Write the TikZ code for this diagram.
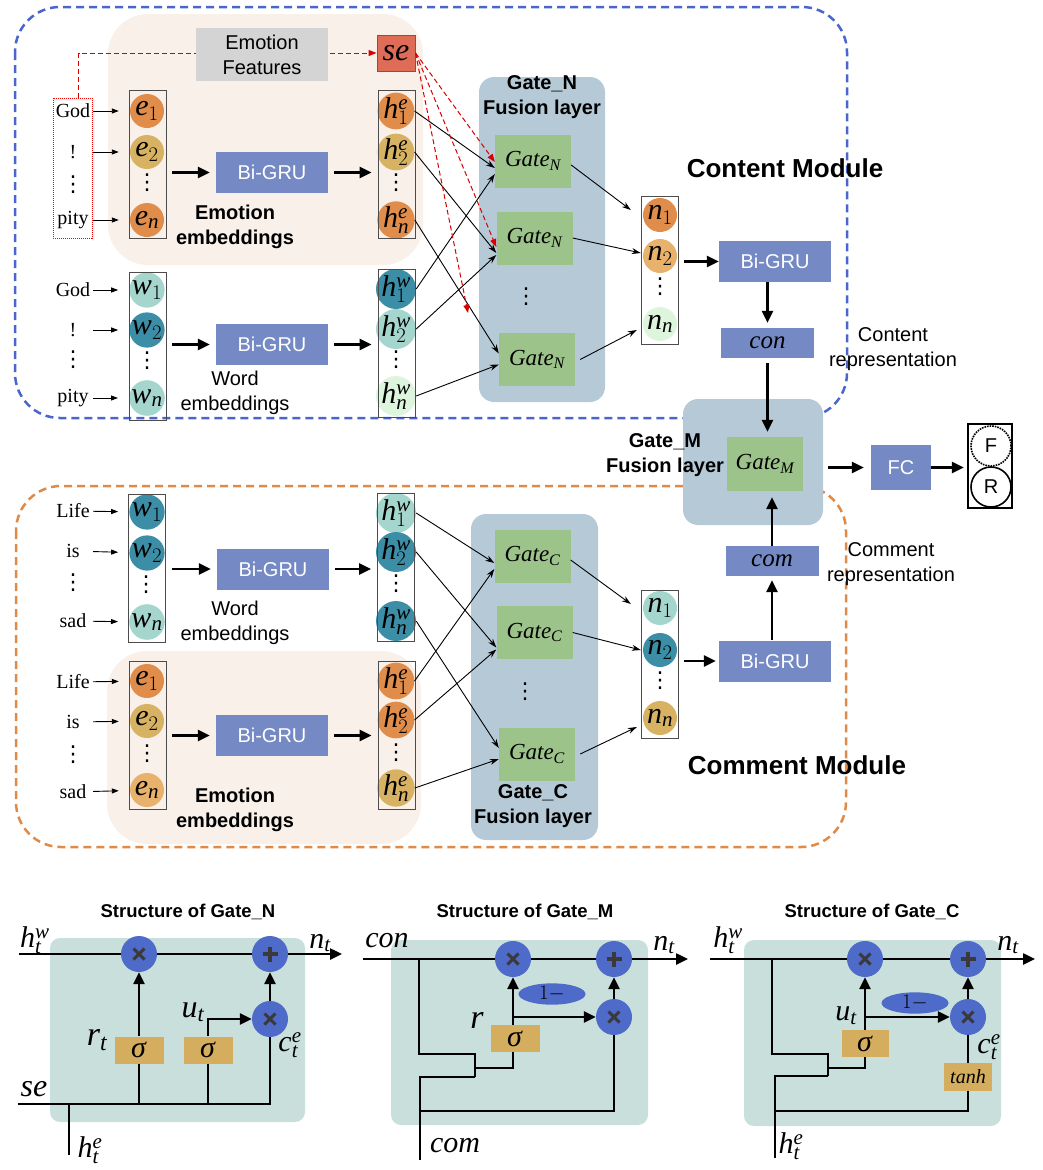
\documentclass[tikz,border=0pt]{standalone}
\usepackage{fontspec}
\setmainfont{Liberation Serif}[NFSSFamily=libserif]
\setsansfont{Liberation Sans}
\newfontfamily\dejavu{DejaVu Sans}
\SetSymbolFont{letters}{normal}{TU}{libserif}{m}{it}
\usetikzlibrary{arrows.meta}
\usetikzlibrary{positioning}
\usetikzlibrary{shapes.geometric}
\definecolor{peach}{HTML}{F9F0E9}
\definecolor{featgray}{HTML}{D4D4D4}
\definecolor{sered}{HTML}{DE6C57}
\definecolor{seborder}{HTML}{C0392B}
\definecolor{emo}{HTML}{E08C4A}
\definecolor{gold}{HTML}{D7B262}
\definecolor{lorange}{HTML}{E8B26C}
\definecolor{dteal}{HTML}{3C8EA6}
\definecolor{lteal}{HTML}{A5D6CE}
\definecolor{pale}{HTML}{DDF5DD}
\definecolor{grublue}{HTML}{7589C4}
\definecolor{fusion}{HTML}{B5CAD6}
\definecolor{gategreen}{HTML}{9CC48A}
\definecolor{dashblue}{HTML}{4A66CC}
\definecolor{dashorange}{HTML}{E08A48}
\definecolor{structbg}{HTML}{C9DFDB}
\definecolor{opblue}{HTML}{4F6BC9}
\definecolor{opmark}{HTML}{3A3A3A}
\definecolor{sigmabox}{HTML}{D4AE5E}
\newcommand{\colvdots}{{\dejavu ⋮}}
\newcommand{\sig}{\textit{σ}}
\tikzset{module/.style = {line width=2.5pt, dash pattern=on 8pt off 5pt, rounded corners=45pt}}
\tikzset{tok/.style = {circle, inner sep=0, minimum size=34pt, font=\fontsize{30}{30}\selectfont}}
\tikzset{colbox/.style = {draw=black!70, line width=0.8pt, inner sep=0, minimum width=37pt, minimum height=148pt}}
\tikzset{word/.style = {inner sep=0, minimum width=40pt, font=\fontsize{20}{22}\selectfont}}
\tikzset{dots/.style = {inner sep=0, font=\fontsize{22}{22}\selectfont}}
\tikzset{gru/.style = {fill=grublue, text=white, inner sep=0, minimum width=112pt, minimum height=41pt,
                       font=\sffamily\fontsize{20}{22}\selectfont}}
\tikzset{gatebox/.style = {fill=gategreen, inner sep=0, minimum width=76pt, minimum height=53pt,
                           font=\fontsize{23}{23}\selectfont}}
\tikzset{fusionbox/.style = {fill=fusion, rounded corners=15pt, inner sep=0}}
\tikzset{repbox/.style = {fill=grublue, inner sep=0, minimum width=93pt, minimum height=30pt,
                          font=\fontsize{25}{25}\selectfont}}
\tikzset{txt/.style = {align=center, inner sep=0, font=\sffamily\fontsize{20}{25}\selectfont}}
\tikzset{btxt/.style = {align=center, inner sep=0, font=\sffamily\bfseries\fontsize{20}{25}\selectfont}}
\tikzset{tarr/.style = {-{Triangle[length=7pt,width=5pt]}, line width=0.9pt, shorten >=11pt}}
\tikzset{bigarr/.style = {-{Triangle[length=12pt,width=11pt]}, line width=2.5pt, shorten <=6pt, shorten >=6pt}}
\tikzset{garr/.style = {-{Stealth[length=9pt,width=6pt]}, line width=0.9pt}}
\tikzset{redarr/.style = {-{Triangle[length=8pt,width=6pt]}, red!85!black, dash pattern=on 5pt off 3pt, line width=1pt}}
\tikzset{wire/.style = {line width=2.5pt}}
\tikzset{wirearr/.style = {line width=2.5pt, -{Triangle[length=12pt,width=11pt]}}}
\tikzset{op/.style = {circle, fill=opblue, minimum size=36pt, inner sep=0}}
\tikzset{opx/.style = {op, path picture={
  \draw[opmark, line width=3pt] ([shift={(-5.5pt,-5.5pt)}]path picture bounding box.center)
        -- ([shift={(5.5pt,5.5pt)}]path picture bounding box.center);
  \draw[opmark, line width=3pt] ([shift={(-5.5pt,5.5pt)}]path picture bounding box.center)
        -- ([shift={(5.5pt,-5.5pt)}]path picture bounding box.center);}}}
\tikzset{opplus/.style = {op, path picture={
  \draw[opmark, line width=3.2pt] ([xshift=-7.5pt]path picture bounding box.center)
        -- ([xshift=7.5pt]path picture bounding box.center);
  \draw[opmark, line width=3.2pt] ([yshift=-7.5pt]path picture bounding box.center)
        -- ([yshift=7.5pt]path picture bounding box.center);}}}
\tikzset{sigbox/.style = {fill=sigmabox, inner sep=0, minimum width=49pt, minimum height=27pt,
                          font=\fontsize{30}{30}\selectfont}}
\tikzset{oneminus/.style = {ellipse, fill=opblue, inner sep=0, minimum width=67pt, minimum height=17pt,
                            font=\fontsize{22}{22}\selectfont}}
\tikzset{mlab/.style = {inner sep=0, font=\fontsize{30}{30}\selectfont}}
\tikzset{stitle/.style = {inner sep=0, font=\sffamily\bfseries\fontsize{18.5}{22}\selectfont}}

\begin{document}
\begin{tikzpicture}[x=1pt, y=-1pt]
  \useasboundingbox (0,0) rectangle (1042,1170);
  % module frames
  \draw[module, draw=dashblue] (15,7) rectangle (847,418);
  \draw[module, draw=dashorange] (16,486) rectangle (846,847);
  \fill[peach, rounded corners=40pt] (108,14) rectangle (423,265);
  \fill[peach, rounded corners=40pt] (107,651) rectangle (421,844);

  % content module, emotion branch
  \node[fill=sered, draw=seborder, line width=1pt, inner sep=0, minimum width=38pt, minimum height=36pt,
        font=\fontsize{32}{32}\selectfont] (se) at (396,53) {$se$};
  \node[draw=red, densely dotted, line width=1pt, minimum width=39pt, minimum height=140pt] (tgodbox) at (72.5,168) {};
  \draw[redarr] ([xshift=6pt]tgodbox.north) |- (se.west);
  \node[fill=featgray, minimum width=132pt, minimum height=53pt, txt] (feat) at (262,54.5) {Emotion\\Features};
  \foreach \i/\y/\t in {1/111/God, 2/152/!, n/220/pity}
    \node[word] (tg\i) at (73,\y) {\t};
  \node[dots] (tgd) at (73,185) {\colvdots};
  \foreach \i/\y/\c in {1/111/emo, 2/152/gold, n/220/emo}
    \node[tok, fill=\c] (te\i) at (147,\y) {$e_\i$};
  \node[dots] (ted) at (147,183) {\colvdots};
  \node[colbox] (tecol) at (147.5,164.5) {};
  \foreach \i in {1,2,n}
    \draw[tarr] (tg\i) -- (te\i);
  \node[gru] (teg) at (272,172.5) {Bi-GRU};
  \draw[bigarr] (tecol.east |- teg) -- (teg.west);
  \foreach \i/\y/\c in {1/111/emo, 2/152/gold, n/220/emo}
    \node[tok, fill=\c] (the\i) at (396,\y) {$h^e_\i$};
  \node[dots] (thed) at (396,183) {\colvdots};
  \node[colbox] (thecol) at (396.5,164.5) {};
  \draw[bigarr] (teg.east) -- (thecol.west |- teg);
  \node[btxt] (temb) at (235,227) {Emotion\\embeddings};

  % content module, word branch
  \foreach \i/\y/\t in {1/290/God, 2/330/!, n/398/pity}
    \node[word] (twg\i) at (73,\y) {\t};
  \node[dots] (twgd) at (73,360) {\colvdots};
  \foreach \i/\y/\c in {1/290/lteal, 2/330/dteal, n/398/lteal}
    \node[tok, fill=\c] (tw\i) at (147,\y) {$w_\i$};
  \node[dots] (twd) at (147,361) {\colvdots};
  \node[colbox] (twcol) at (147.5,346) {};
  \foreach \i in {1,2,n}
    \draw[tarr] (twg\i) -- (tw\i);
  \node[gru] (twgru) at (272,344.5) {Bi-GRU};
  \draw[bigarr] (twcol.east |- twgru) -- (twgru.west);
  \foreach \i/\y/\c in {1/289/dteal, 2/329/lteal, n/396/pale}
    \node[tok, fill=\c] (thw\i) at (396,\y) {$h^w_\i$};
  \node[dots] (thwd) at (396,360) {\colvdots};
  \node[colbox] (thwcol) at (396.5,343) {};
  \draw[bigarr] (twgru.east) -- (thwcol.west |- twgru);
  \node[txt] (twemb) at (235,393) {Word\\embeddings};

  % Gate_N fusion layer
  \node[fusionbox, minimum width=126pt, minimum height=325pt] (fusN) at (542,239.5) {};
  \node[btxt] (fusNt) at (542,97.5) {Gate\_N\\Fusion layer};
  \node[gatebox] (gn1) at (533,161) {$Gate_N$};
  \node[gatebox] (gn2) at (534.5,238) {$Gate_N$};
  \node[gatebox] (gn3) at (537,359.5) {$Gate_N$};
  \node[dots] (gnd) at (526,297) {\colvdots};
  \draw[garr] (the1.east) -- ([yshift=-7pt]gn1.west);
  \draw[garr] (the2.east) -- ([yshift=-15pt]gn2.west);
  \draw[garr] (then.east) -- ([yshift=6pt]gn3.west);
  \draw[garr] (thw1.east) -- ([yshift=-13pt]gn1.west);
  \draw[garr] (thw2.east) -- ([yshift=-17pt]gn2.west);
  \draw[garr] (thwn.east) -- ([yshift=-5pt]gn3.west);
  \coordinate (sedots) at (468,313);
  \draw[redarr] (se.east) -- ([yshift=-1pt]gn1.west);
  \draw[redarr] (se.east) -- ([yshift=-9pt]gn2.west);
  \draw[redarr] (se.east) -- (sedots);

  % content representation
  \foreach \i/\y/\c in {1/215/emo, 2/256/lorange, n/324/pale}
    \node[tok, fill=\c] (tn\i) at (660,\y) {$n_\i$};
  \node[dots] (tnd) at (660,287) {\colvdots};
  \node[colbox] (tncol) at (660,270) {};
  \draw[garr] ([yshift=-4pt]gn1.east) -- ([xshift=-12pt,yshift=5pt]tn1.west);
  \draw[garr] (gn2.east) -- ([xshift=-2pt,yshift=3pt]tn2.west);
  \draw[garr] ([xshift=5pt]gn3.east) -- ([xshift=-6pt,yshift=-6pt]tnn.west);
  \node[gru] (tngru) at (775,261.5) {Bi-GRU};
  \draw[bigarr, shorten <=5pt, shorten >=0pt] (tncol.east |- tngru) -- (tngru.west);
  \node[repbox] (con) at (767.5,343) {$con$};
  \draw[bigarr, shorten <=0pt, shorten >=5pt] (con.north |- tngru.south) -- (con.north);
  \node[txt] (conrep) at (893,349.5) {Content\\representation};
  \node[btxt, font=\sffamily\bfseries\fontsize{26}{30}\selectfont] (contmod) at (785,168) {Content Module};

  % Gate_M fusion layer and output
  \node[fusionbox, minimum width=140pt, minimum height=126pt] (fusM) at (753,462) {};
  \node[gatebox, minimum height=54pt] (gateM) at (765,464) {$Gate_M$};
  \node[btxt] (fusMt) at (665,455) {Gate\_M\\Fusion layer};
  \draw[bigarr, shorten <=5pt, shorten >=5pt] (con.south) -- (gateM.north -| con.south);
  \node[gru, minimum width=60pt, minimum height=45pt] (fc) at (901,467.5) {FC};
  \draw[bigarr, shorten <=5pt, shorten >=7pt] (fusM.east |- fc) -- (fc.west);
  \node[draw, line width=2.2pt, minimum width=44pt, minimum height=84pt, inner sep=0] (out) at (990,466) {};
  \node[circle, draw, densely dotted, line width=1.6pt, minimum size=40pt, inner sep=0,
        font=\sffamily\fontsize{20}{20}\selectfont] (outF) at (991,446) {F};
  \node[circle, draw, line width=1.6pt, minimum size=40pt, inner sep=0,
        font=\sffamily\fontsize{20}{20}\selectfont] (outR) at (991,487) {R};
  \draw[bigarr, shorten <=0pt, shorten >=3pt] (fc.east) -- (out.west |- fc);

  % comment module, word branch
  \foreach \i/\y/\t in {1/511/Life, 2/551/is, n/621/sad}
    \node[word] (bwg\i) at (73,\y) {\t};
  \node[dots] (bwgd) at (73,583) {\colvdots};
  \foreach \i/\y/\c in {1/512/dteal, 2/553/dteal, n/622/lteal}
    \node[tok, fill=\c] (bw\i) at (147,\y) {$w_\i$};
  \node[dots] (bwd) at (146,585) {\colvdots};
  \node[colbox] (bwcol) at (147,568.5) {};
  \foreach \i in {1,2,n}
    \draw[tarr] (bwg\i) -- (bw\i);
  \node[gru] (bwgru) at (273,569) {Bi-GRU};
  \draw[bigarr] (bwcol.east |- bwgru) -- (bwgru.west);
  \foreach \i/\y/\c in {1/513/lteal, 2/552/dteal, n/621/dteal}
    \node[tok, fill=\c] (bhw\i) at (396,\y) {$h^w_\i$};
  \node[dots] (bhwd) at (396,584) {\colvdots};
  \node[colbox] (bhwcol) at (396,567) {};
  \draw[bigarr] (bwgru.east) -- (bhwcol.west |- bwgru);
  \node[txt] (bwemb) at (235,623) {Word\\embeddings};

  % comment module, emotion branch
  \foreach \i/\y/\t in {1/682/Life, 2/722/is, n/792/sad}
    \node[word] (beg\i) at (73,\y) {\t};
  \node[dots] (begd) at (73,755) {\colvdots};
  \foreach \i/\y/\c in {1/681/emo, 2/721/gold, n/790/lorange}
    \node[tok, fill=\c] (be\i) at (147,\y) {$e_\i$};
  \node[dots] (bed) at (147,754) {\colvdots};
  \node[colbox] (becol) at (147.5,735) {};
  \foreach \i in {1,2,n}
    \draw[tarr] (beg\i) -- (be\i);
  \node[gru] (begru) at (272,735.5) {Bi-GRU};
  \draw[bigarr] (becol.east |- begru) -- (begru.west);
  \foreach \i/\y/\c in {1/681/emo, 2/720/emo, n/788/gold}
    \node[tok, fill=\c] (bhe\i) at (396,\y) {$h^e_\i$};
  \node[dots] (bhed) at (396,753) {\colvdots};
  \node[colbox] (bhecol) at (396.5,735) {};
  \draw[bigarr] (begru.east) -- (bhecol.west |- begru);
  \node[btxt] (bemb) at (235,810) {Emotion\\embeddings};

  % Gate_C fusion layer
  \node[fusionbox, minimum width=127pt, minimum height=326pt] (fusC) at (534.5,677) {};
  \node[btxt] (fusCt) at (533,806.5) {Gate\_C\\Fusion layer};
  \node[gatebox] (gc1) at (532.5,556) {$Gate_C$};
  \node[gatebox] (gc2) at (534.5,632.5) {$Gate_C$};
  \node[gatebox] (gc3) at (537,754) {$Gate_C$};
  \node[dots] (gcd) at (525,692) {\colvdots};
  \draw[garr] (bhw1.east) -- ([yshift=-7pt]gc1.west);
  \draw[garr] (bhw2.east) -- ([yshift=-15pt]gc2.west);
  \draw[garr] (bhwn.east) -- ([yshift=6pt]gc3.west);
  \draw[garr] (bhe1.east) -- ([yshift=-13pt]gc1.west);
  \draw[garr] (bhe2.east) -- ([yshift=-17pt]gc2.west);
  \draw[garr] (bhen.east) -- ([yshift=-5pt]gc3.west);

  % comment representation
  \foreach \i/\y/\c in {1/608/lteal, 2/650/dteal, n/718/gold}
    \node[tok, fill=\c] (bn\i) at (660,\y) {$n_\i$};
  \node[dots] (bnd) at (660,681) {\colvdots};
  \node[colbox] (bncol) at (660,664) {};
  \draw[garr] ([yshift=-4pt]gc1.east) -- ([xshift=-12pt,yshift=4pt]bn1.west);
  \draw[garr] (gc2.east) -- ([xshift=-2pt]bn2.west);
  \draw[garr] ([xshift=5pt]gc3.east) -- ([xshift=-6pt,yshift=-9pt]bnn.west);
  \node[gru] (bngru) at (775,661) {Bi-GRU};
  \draw[bigarr, shorten <=5pt, shorten >=3pt] (bncol.east |- bngru) -- (bngru.west);
  \node[repbox] (com) at (772,561) {$com$};
  \draw[bigarr, shorten <=0pt, shorten >=4pt] (com.south |- bngru.north) -- (com.south);
  \draw[bigarr, shorten <=0pt, shorten >=6pt] (com.north) -- (gateM.south -| com.north);
  \node[txt] (comrep) at (891,564.5) {Comment\\representation};
  \node[btxt, font=\sffamily\bfseries\fontsize{26}{30}\selectfont] (commod) at (797,765) {Comment Module};

  % structure of Gate_N
  \node[stitle] (titN) at (188,912) {Structure of Gate\_N};
  \node[fill=structbg, rounded corners=10pt, minimum width=255pt, minimum height=184pt] (bgN) at (177.5,1030) {};
  \coordinate (nin) at (19,954);
  \coordinate (nout) at (342,954);
  \coordinate (nse) at (18,1104);
  \coordinate (nhe) at (69,1155);
  \node[opx] (nx1) at (139,954) {};
  \node[opplus] (nplus) at (270,954) {};
  \node[opx] (nx2) at (270,1019) {};
  \node[sigbox] (ns1) at (139,1050) {\sig};
  \node[sigbox] (ns2) at (208,1050) {\sig};
  \draw[wirearr] (nin) -- (nx1) -- (nplus) -- (nout);
  \draw[wirearr] (ns1) -- (nx1);
  \draw[wirearr] (ns2) |- (nx2);
  \draw[wirearr] (nx2) -- (nplus);
  \draw[wire] (nse) -| (nx2);
  \draw[wire] (ns1) -- (ns1 |- nse);
  \draw[wire] (ns2) -- (ns2 |- nse);
  \draw[wire] (nhe |- nse) -- (nhe);
  \node[mlab] (lNhw) at (35,940) {$h^w_t$};
  \node[mlab] (lNnt) at (320,943) {$n_t$};
  \node[mlab, font=\fontsize{34}{34}\selectfont] (lNrt) at (97,1040) {$r_t$};
  \node[mlab, font=\fontsize{32}{32}\selectfont] (lNut) at (193,1012) {$u_t$};
  \node[mlab] (lNce) at (290,1045) {$c^e_t$};
  \node[mlab, font=\fontsize{32}{32}\selectfont] (lNse) at (34,1089) {$se$};
  \node[mlab] (lNhe) at (90,1150) {$h^e_t$};

  % structure of Gate_M
  \node[stitle] (titM) at (525,912) {Structure of Gate\_M};
  \node[fill=structbg, rounded corners=10pt, minimum width=257pt, minimum height=185pt] (bgM) at (519.5,1032.5) {};
  \coordinate (min) at (363,959);
  \coordinate (mout) at (688,959);
  \coordinate (mcon) at (419,959);
  \coordinate (mj1) at (475,1054);
  \coordinate (mj2) at (475,1077);
  \coordinate (mj3) at (475,1068);
  \coordinate (mj4) at (420,1111);
  \coordinate (mbr) at (513,1017);
  \coordinate (mcom) at (420,1160);
  \node[opx] (mx1) at (513,959) {};
  \node[opplus] (mplus) at (614,959) {};
  \node[opx] (mx2) at (614,1017) {};
  \node[sigbox] (ms) at (515,1038.5) {\sig};
  \node[oneminus] (m1m) at (552,994) {$1-$};
  \draw[wirearr] (min) -- (mx1) -- (mplus) -- (mout);
  \draw[wirearr] (mbr |- ms.north) -- (mx1);
  \draw[wirearr] (mbr) -- (mx2);
  \draw[wirearr] (mx2) -- (mplus);
  \draw[wire] (mcon) |- (mj1) -- (mj2);
  \draw[wire] (mj3) -| (mbr |- ms.south);
  \draw[wire] (mcom) |- (mj2);
  \draw[wire] (mj4) -| (mx2);
  \node[mlab] (lMcon) at (387,941) {$con$};
  \node[mlab] (lMnt) at (664,945) {$n_t$};
  \node[mlab, font=\fontsize{34}{34}\selectfont] (lMr) at (477,1020) {$r$};
  \node[mlab] (lMcom) at (455,1146) {$com$};

  % structure of Gate_C
  \node[stitle] (titC) at (872,912) {Structure of Gate\_C};
  \node[fill=structbg, rounded corners=10pt, minimum width=257pt, minimum height=186pt] (bgC) at (872.5,1033) {};
  \coordinate (cin) at (710,959);
  \coordinate (cout) at (1035,959);
  \coordinate (chw) at (772,959);
  \coordinate (cj1) at (828,1054);
  \coordinate (cj2) at (828,1076);
  \coordinate (cj3) at (828,1068);
  \coordinate (cj4) at (775,1111);
  \coordinate (cbr) at (865,1017);
  \coordinate (che) at (775,1158);
  \node[opx] (cx1) at (865,959) {};
  \node[opplus] (cplus) at (968,959) {};
  \node[opx] (cx2) at (968,1017) {};
  \node[sigbox, minimum width=47pt] (cs) at (865,1043.5) {\sig};
  \node[sigbox, minimum width=48pt, minimum height=28pt, font=\fontsize{20}{20}\selectfont] (ctanh) at (968,1077) {$tanh$};
  \node[oneminus] (c1m) at (915,1003) {$1-$};
  \draw[wirearr] (cin) -- (cx1) -- (cplus) -- (cout);
  \draw[wirearr] (cs) -- (cx1);
  \draw[wirearr] (cbr) -- (cx2);
  \draw[wirearr] (cx2) -- (cplus);
  \draw[wire] (cx2) -- (ctanh);
  \draw[wire] (chw) |- (cj1) -- (cj2);
  \draw[wire] (cj3) -| (cs);
  \draw[wire] (che) |- (cj2);
  \draw[wire] (cj4) -| (ctanh);
  \node[mlab] (lChw) at (728,940) {$h^w_t$};
  \node[mlab] (lCnt) at (1008,945) {$n_t$};
  \node[mlab] (lCut) at (846,1016) {$u_t$};
  \node[mlab] (lCce) at (989,1047) {$c^e_t$};
  \node[mlab] (lChe) at (791,1146) {$h^e_t$};
\end{tikzpicture}
\end{document}
